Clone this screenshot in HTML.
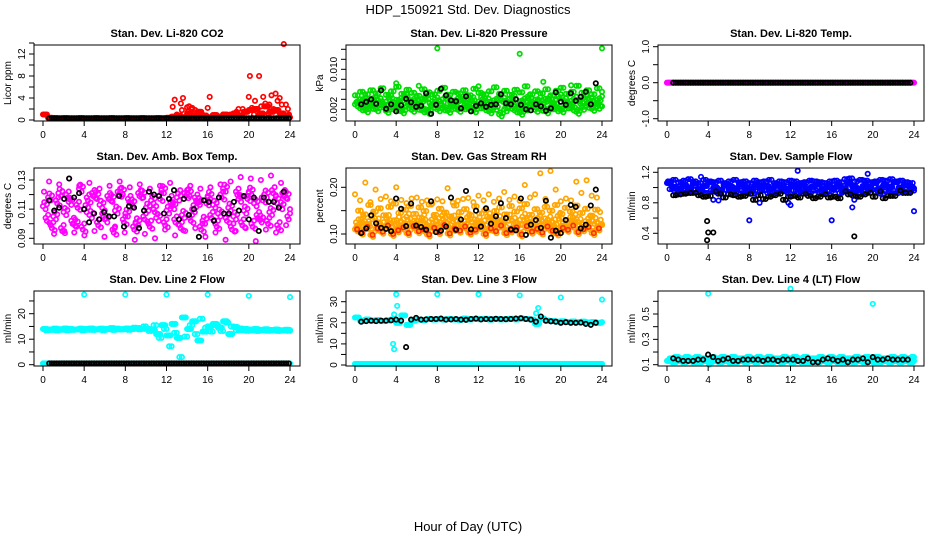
<!DOCTYPE html>
<html><head><meta charset="utf-8"><title>HDP_150921 Std. Dev. Diagnostics</title>
<style>
html,body{margin:0;padding:0;background:#fff;}
svg{display:block;font-family:"Liberation Sans",sans-serif;}
</style></head>
<body>
<svg id="chart" width="936" height="540" viewBox="0 0 936 540" xmlns="http://www.w3.org/2000/svg">
<text x="468" y="14" font-size="13" text-anchor="middle">HDP_150921  Std. Dev. Diagnostics</text>
<text x="468" y="531" font-size="13" text-anchor="middle">Hour of Day (UTC)</text>
</svg>
<script>
// ---------- data ----------
const xTickLabels = ["0","4","8","12","16","20","24"];
const xTickHours = [0,4,8,12,16,20,24];

// CO2
const co2Red = [1.0,0.4,0.35,0.3,0.35,0.3,0.3,0.35,0.3,0.3,0.35,0.3,0.3,0.35,0.3,0.3,0.35,0.3,0.3,0.35,0.3,0.3,0.35,0.3,0.4,0.6,0.8,0.5,1.2,0.6,1.5,0.8,0.5,0.9,0.6,1.0,0.9,1.2,0.8,1.5,1.8,2.0,1.2,2.5,1.5,1.8,1.2,0.8,0.5];
const co2Black = [0.3,0.3,0.3,0.3,0.3,0.3,0.3,0.3,0.3,0.3,0.3,0.3,0.3,0.3,0.3,0.3,0.3,0.3,0.3,0.3,0.3,0.3,0.3,0.3,0.3,0.3,0.3,0.3,0.3,0.3,0.3,0.3,0.3,0.3,0.3,0.3,0.3,0.3,0.3,0.3,0.3,0.3,0.3,0.3,0.3,0.3,0.3,0.3,0.3];
const co2BurstHours = [12.6,12.8,13.0,13.4,13.6,13.5,14.0,14.2,14.4,14.6,14.8,15.0,16.0,16.2,16.5,17.5,18.2,18.8,19.0,19.4,20.0,20.1,20.3,20.6,20.8,21.0,21.2,21.4,21.6,21.8,22.0,22.2,22.4,22.6,22.8,23.0,23.2,23.4,23.6,23.8,23.9,22.9,21.9,20.5,19.6,15.3,14.1,14.5,15.5];
const co2BurstVals = [2.4,3.7,1.0,3.0,4.0,1.8,2.3,2.5,2.0,1.5,1.8,1.2,2.2,4.2,0.8,1.0,1.0,1.5,2.0,2.0,4.2,8.0,2.2,3.5,2.0,8.0,2.5,4.2,3.0,2.5,2.8,4.5,2.0,4.8,3.5,4.0,2.8,13.8,2.8,2.0,1.0,1.5,1.2,1.0,1.5,0.8,1.6,2.2,1.0];

// Pressure (kPa)
const pLow = [0.0030,0.0022,0.0018,0.0025,0.0020,0.0028,0.0017,0.0024,0.0021,0.0016,0.0026,0.0019,0.0023,0.0018,0.0015,0.0027,0.0020,0.0022,0.0017,0.0025,0.0019,0.0024,0.0021,0.0018,0.0026,0.0022,0.0016,0.0023,0.0010,0.0020,0.0025,0.0018,0.0013,0.0022,0.0027,0.0019,0.0021,0.0016,0.0024,0.0020,0.0018,0.0026,0.0022,0.0015,0.0023,0.0027,0.0021,0.0025,0.0026];
const pMid = [0.0036,0.0040,0.0033,0.0042,0.0038,0.0031,0.0044,0.0035,0.0039,0.0046,0.0034,0.0041,0.0037,0.0043,0.0032,0.0040,0.0036,0.0045,0.0033,0.0038,0.0042,0.0035,0.0040,0.0031,0.0044,0.0037,0.0034,0.0041,0.0039,0.0036,0.0043,0.0032,0.0038,0.0045,0.0035,0.0040,0.0037,0.0042,0.0034,0.0046,0.0038,0.0033,0.0041,0.0036,0.0044,0.0039,0.0035,0.0042,0.0038];
const pHigh = [0.0048,0.0055,0.0050,0.0058,0.0052,0.0062,0.0049,0.0056,0.0065,0.0051,0.0059,0.0053,0.0047,0.0060,0.0054,0.0050,0.0057,0.0063,0.0049,0.0055,0.0052,0.0058,0.0048,0.0061,0.0053,0.0050,0.0056,0.0064,0.0051,0.0057,0.0049,0.0059,0.0054,0.0066,0.0050,0.0056,0.0052,0.0060,0.0048,0.0057,0.0063,0.0051,0.0055,0.0067,0.0053,0.0058,0.0050,0.0062,0.0055];
const pSpikeHours = [4.0,8.0,16.0,18.3,24.0,21.0,12.0,6.2];
const pSpikeVals = [0.0072,0.0142,0.0131,0.0075,0.0142,0.0068,0.0066,0.0067];
const pBlack = [0.0030,0.0035,0.0040,0.0031,0.0058,0.0021,0.0030,0.0016,0.0028,0.0041,0.0034,0.0025,0.0027,0.0052,0.0011,0.0029,0.0061,0.0048,0.0038,0.0036,0.0022,0.0046,0.0016,0.0027,0.0032,0.0025,0.0029,0.0030,0.0050,0.0032,0.0030,0.0040,0.0029,0.0020,0.0018,0.0030,0.0026,0.0017,0.0022,0.0054,0.0035,0.0029,0.0052,0.0037,0.0045,0.0055,0.0030,0.0072];

// Li-820 temp
const tMagenta = [0,0,0,0,0,0,0,0,0,0,0,0,0,0,0,0,0,0,0,0,0,0,0,0,0,0,0,0,0,0,0,0,0,0,0,0,0,0,0,0,0,0,0,0,0,0,0,0,0];
const tBlack = [0,0,0,0,0,0,0,0,0,0,0,0,0,0,0,0,0,0,0,0,0,0,0,0,0,0,0,0,0,0,0,0,0,0,0,0,0,0,0,0,0,0,0,0,0,0,0,0];

// Amb box temp
const ambA = [0.112,0.118,0.105,0.121,0.108,0.115,0.100,0.124,0.110,0.106,0.119,0.113,0.103,0.117,0.109,0.122,0.107,0.114,0.101,0.120,0.111,0.116,0.104,0.123,0.109,0.112,0.118,0.106,0.121,0.110,0.115,0.102,0.119,0.113,0.107,0.124,0.111,0.105,0.117,0.109,0.122,0.114,0.103,0.120,0.108,0.116,0.112,0.119,0.110];
const ambB = [0.104,0.099,0.116,0.097,0.120,0.102,0.113,0.098,0.118,0.121,0.101,0.107,0.119,0.096,0.122,0.103,0.117,0.098,0.121,0.105,0.100,0.110,0.119,0.101,0.117,0.103,0.099,0.121,0.104,0.118,0.098,0.116,0.106,0.100,0.120,0.104,0.098,0.122,0.101,0.119,0.100,0.106,0.118,0.102,0.123,0.099,0.121,0.105,0.113];
const ambC = [0.122,0.129,0.093,0.127,0.095,0.131,0.094,0.126,0.092,0.128,0.095,0.124,0.091,0.126,0.097,0.129,0.094,0.125,0.089,0.127,0.093,0.124,0.090,0.126,0.096,0.128,0.092,0.123,0.095,0.126,0.097,0.124,0.091,0.125,0.094,0.127,0.089,0.129,0.095,0.132,0.097,0.131,0.088,0.130,0.096,0.133,0.094,0.128,0.099];
const ambBlack = [0.116,0.109,0.111,0.117,0.131,0.118,0.121,0.110,0.101,0.107,0.103,0.108,0.105,0.105,0.119,0.098,0.112,0.111,0.097,0.109,0.122,0.120,0.119,0.107,0.117,0.123,0.103,0.117,0.106,0.110,0.091,0.116,0.115,0.102,0.118,0.107,0.107,0.115,0.109,0.119,0.103,0.118,0.095,0.118,0.115,0.115,0.111,0.122];

// Gas stream RH
const rhA = [0.110,0.103,0.115,0.098,0.112,0.105,0.118,0.100,0.108,0.114,0.102,0.117,0.106,0.110,0.099,0.113,0.104,0.119,0.101,0.111,0.107,0.116,0.103,0.109,0.115,0.100,0.112,0.106,0.118,0.102,0.108,0.114,0.099,0.117,0.105,0.111,0.103,0.116,0.107,0.101,0.113,0.109,0.118,0.104,0.110,0.115,0.102,0.112,0.119];
const rhB = [0.125,0.132,0.121,0.138,0.127,0.119,0.134,0.123,0.130,0.126,0.137,0.122,0.129,0.135,0.120,0.131,0.128,0.139,0.124,0.133,0.127,0.121,0.136,0.125,0.130,0.123,0.138,0.126,0.132,0.120,0.135,0.128,0.124,0.137,0.129,0.122,0.134,0.127,0.131,0.125,0.139,0.123,0.130,0.136,0.126,0.121,0.133,0.128,0.124];
const rhC = [0.150,0.142,0.162,0.148,0.155,0.140,0.158,0.165,0.145,0.152,0.160,0.143,0.157,0.149,0.163,0.141,0.154,0.146,0.138,0.161,0.147,0.153,0.140,0.159,0.144,0.151,0.136,0.149,0.157,0.142,0.160,0.148,0.155,0.164,0.141,0.153,0.146,0.158,0.150,0.162,0.143,0.156,0.148,0.161,0.145,0.154,0.139,0.152,0.147];
const rhD = [0.185,0.172,0.210,0.168,0.195,0.175,0.180,0.170,0.200,0.173,0.166,0.176,0.178,0.169,0.172,0.165,0.174,0.170,0.198,0.167,0.171,0.175,0.177,0.168,0.182,0.172,0.185,0.169,0.176,0.190,0.173,0.180,0.171,0.205,0.178,0.185,0.230,0.175,0.235,0.195,0.170,0.176,0.172,0.212,0.188,0.215,0.182,0.178,0.121];
const rhBlack = [0.102,0.112,0.140,0.123,0.113,0.111,0.106,0.176,0.154,0.117,0.165,0.118,0.115,0.109,0.170,0.104,0.107,0.116,0.178,0.109,0.131,0.192,0.110,0.150,0.116,0.155,0.122,0.138,0.166,0.134,0.110,0.108,0.176,0.098,0.120,0.130,0.113,0.171,0.092,0.107,0.102,0.130,0.162,0.158,0.112,0.120,0.161,0.195];

// Sample flow
const sA = [1.06,1.01,0.99,1.03,1.00,1.05,0.98,1.02,1.07,1.00,0.97,1.03,1.01,0.99,1.04,1.00,0.98,1.03,1.00,1.02,0.99,1.04,1.01,0.98,1.02,1.00,1.03,0.99,1.01,1.04,0.98,1.02,1.00,1.03,0.99,1.05,1.01,0.98,1.02,1.00,1.06,0.99,1.03,1.01,1.07,1.00,1.03,1.01,0.99];
const sB = [0.98,0.95,0.94,0.96,0.93,0.97,0.95,0.93,0.96,0.94,0.92,0.97,0.95,0.93,0.96,0.94,0.92,0.95,0.96,0.93,0.94,0.97,0.95,0.92,0.96,0.94,0.95,0.93,0.96,0.94,0.92,0.95,0.97,0.93,0.95,0.94,0.96,0.93,0.95,0.97,0.94,0.92,0.95,0.96,0.93,0.95,0.94,0.96,0.95];
const sC = [1.08,1.10,1.07,1.09,1.11,1.08,1.06,1.10,1.08,1.07,1.09,1.06,1.08,1.10,1.07,1.08,1.06,1.09,1.07,1.08,1.10,1.06,1.08,1.07,1.09,1.08,1.06,1.07,1.09,1.08,1.07,1.06,1.08,1.09,1.07,1.11,1.12,1.08,1.10,1.09,1.07,1.08,1.10,1.09,1.11,1.08,1.09,1.07,1.06];
const sBlueOutHours = [8.0,16.0,18.0,12.7,19.5,24.0,3.3,4.5,5.0,11.8,12.0,9.0,18.2];
const sBlueOutVals = [0.57,0.57,0.74,1.22,1.18,0.69,1.14,0.84,0.83,0.80,0.77,0.80,0.84];
const sBlack = [0.90,0.91,0.92,0.93,0.93,0.90,0.88,0.89,0.95,0.92,0.87,0.91,0.90,0.88,0.89,0.92,0.84,0.90,0.85,0.88,0.90,0.92,0.84,0.88,0.89,0.87,0.92,0.89,0.86,0.88,0.91,0.87,0.88,0.86,0.95,0.91,0.89,0.88,0.91,0.93,0.88,0.95,0.86,0.89,0.89,0.96,0.93,0.93];
const sBlackOutHours = [3.9,4.0,4.5,3.9,18.2];
const sBlackOutVals = [0.56,0.41,0.41,0.31,0.36];

// Line 2 flow
const l2A = [14.0,13.8,14.1,13.9,14.2,14.0,13.8,14.1,14.0,14.2,13.9,14.1,14.0,14.3,14.1,13.9,14.2,14.0,14.4,14.1,14.0,13.5,12.0,15.5,11.5,16.0,10.5,18.5,14.0,17.0,9.5,13.0,15.0,16.0,14.5,17.0,12.0,14.8,14.2,14.0,13.8,14.0,13.7,13.9,13.6,13.8,13.5,13.7,13.6];
const l2B = [13.5,13.6,13.4,13.7,13.5,13.6,13.8,13.5,13.7,13.6,13.8,13.5,13.9,13.6,13.8,14.0,13.7,14.5,13.9,15.0,13.2,15.5,10.5,14.0,7.2,12.5,3.0,11.0,15.5,12.0,18.0,14.5,13.0,15.5,13.2,16.5,15.0,13.4,13.5,13.3,13.4,13.2,13.5,13.3,13.4,13.2,13.4,13.3,13.5];
const l2Bottom = [0.5,0.5,0.5,0.5,0.5,0.5,0.5,0.5,0.5,0.5,0.5,0.5,0.5,0.5,0.5,0.5,0.5,0.5,0.5,0.5,0.5,0.5,0.5,0.5,0.5,0.5,0.5,0.5,0.5,0.5,0.5,0.5,0.5,0.5,0.5,0.5,0.5,0.5,0.5,0.5,0.5,0.5,0.5,0.5,0.5,0.5,0.5,0.5,0.5];
const l2SpikeHours = [4,8,12,16,20,24];
const l2SpikeVals = [27.5,27.5,27.5,27.5,27.0,26.5];

// Line 3 flow
const l3Cyan = [22.5,21.0,21.5,21.0,21.3,20.8,21.2,21.5,20.0,23.5,19.0,21.0,21.5,21.3,21.8,21.5,21.7,21.5,21.8,21.6,21.4,22.0,21.6,21.8,21.7,21.9,21.5,21.8,21.6,21.7,21.9,21.6,22.0,21.8,21.5,19.5,22.0,21.0,20.8,20.5,20.7,20.4,20.6,20.3,20.5,20.2,20.4,20.0,20.3];
const l3Black = [20.5,20.8,21.0,20.8,21.0,21.0,21.2,21.5,21.0,8.5,21.5,22.3,21.5,21.6,21.8,21.8,22.0,21.5,21.6,21.8,21.5,21.4,21.8,22.0,21.6,21.8,21.7,21.9,21.8,21.7,21.8,22.0,22.2,21.8,21.5,20.5,23.0,21.0,20.7,20.5,20.0,20.3,20.0,20.0,20.1,19.5,19.0,20.0];
const l3Bottom = [0.5,0.5,0.5,0.5,0.5,0.5,0.5,0.5,0.5,0.5,0.5,0.5,0.5,0.5,0.5,0.5,0.5,0.5,0.5,0.5,0.5,0.5,0.5,0.5,0.5,0.5,0.5,0.5,0.5,0.5,0.5,0.5,0.5,0.5,0.5,0.5,0.5,0.5,0.5,0.5,0.5,0.5,0.5,0.5,0.5,0.5,0.5,0.5,0.5];
const l3SpikeHours = [3.8,4.0,3.7,3.8,4.1,8,12,16,17.8,17.6,20,24];
const l3SpikeVals = [24.0,33.5,10.0,7.5,28.0,33.5,33.5,33.0,27.0,24.5,32.0,31.0];

// Line 4 flow
const l4A = [0.13,0.12,0.13,0.12,0.13,0.12,0.12,0.13,0.12,0.13,0.12,0.13,0.12,0.12,0.13,0.12,0.13,0.12,0.13,0.12,0.12,0.13,0.12,0.13,0.12,0.13,0.12,0.12,0.13,0.12,0.13,0.12,0.13,0.12,0.12,0.13,0.12,0.13,0.12,0.13,0.12,0.12,0.13,0.12,0.13,0.12,0.13,0.12,0.13];
const l4B = [0.15,0.16,0.15,0.16,0.15,0.16,0.15,0.15,0.16,0.15,0.16,0.15,0.16,0.15,0.15,0.16,0.15,0.16,0.15,0.16,0.15,0.15,0.16,0.15,0.16,0.15,0.16,0.15,0.15,0.16,0.15,0.16,0.15,0.16,0.15,0.15,0.16,0.15,0.16,0.15,0.16,0.15,0.15,0.16,0.15,0.16,0.15,0.16,0.15];
const l4Black = [0.15,0.14,0.13,0.13,0.13,0.14,0.14,0.18,0.16,0.13,0.14,0.15,0.13,0.13,0.14,0.14,0.14,0.14,0.13,0.14,0.14,0.13,0.14,0.14,0.14,0.13,0.13,0.15,0.12,0.12,0.14,0.15,0.14,0.13,0.14,0.12,0.14,0.14,0.15,0.12,0.16,0.14,0.14,0.15,0.14,0.14,0.14,0.14];
const l4SpikeHours = [4,12,20,4.1];
const l4SpikeVals = [0.66,0.70,0.58,0.10];

// ---------- drawing ----------
const svg = document.getElementById('chart');
const NS = 'http://www.w3.org/2000/svg';
function mk(tag, attrs, parent){
  const e = document.createElementNS(NS, tag);
  for (const k in attrs) e.setAttribute(k, attrs[k]);
  (parent||svg).appendChild(e);
  return e;
}
const COLS = [0,312,624];
const ROWS = [{y0:45,y1:121},{y0:168,y1:244},{y0:291,y1:366}];

function panel(p){
  const ox = COLS[p.col], r = ROWS[p.row];
  const g = mk('g', {});
  
  
  const xL = 34+ox, xR = 300+ox;
  const xs = h => 43+ox + h*(247/24);
  const ys = v => p.ya[1] + (v - p.ya[0])*(p.yb[1]-p.ya[1])/(p.yb[0]-p.ya[0]);
  p.series.forEach(s=>{
    const sg = mk('g', {fill:'none', stroke:s.color, 'stroke-width':1.7}, g);
    
    
    const shifts = s.copies || [0];
    shifts.forEach((sh,k)=>{
      s.vals.forEach((v,i)=>{
        const h = s.hours ? s.hours[i] : s.start + sh + i*s.step;
        if (h > 24.05) return;
        const dy = s.jit ? s.jit[k] : 0;
        const c = mk('circle', {cx:xs(h).toFixed(1), cy:(ys(v)+dy).toFixed(1), r:2.2}, sg);
        
        
      });
    });
  });
  const box = mk('rect', {x:xL, y:r.y0, width:xR-xL, height:r.y1-r.y0, fill:'none', stroke:'#000', 'stroke-width':1}, g);
  
  
  const t = mk('text', {x:(xL+xR)/2, y:r.y0-8, 'font-size':11, 'font-weight':'bold', 'text-anchor':'middle'}, g);
  t.textContent = p.title;
  
  
  const xa = mk('g', {stroke:'#000','stroke-width':1}, g);
  
  
  xTickHours.forEach((h,i)=>{
    mk('line', {x1:xs(h), x2:xs(h), y1:r.y1, y2:r.y1+5}, xa);
    const lt = mk('text', {x:xs(h), y:r.y1+17, 'font-size':10, 'text-anchor':'middle', stroke:'none'}, xa);
    lt.textContent = xTickLabels[i];
    
    
  });
  mk('line', {x1:xs(0), x2:xs(24), y1:r.y1, y2:r.y1}, xa);
  const ya = mk('g', {stroke:'#000','stroke-width':1}, g);
  
  
  p.yTicks.forEach(v=>{ mk('line', {x1:xL, x2:xL-5, y1:ys(v), y2:ys(v)}, ya); });
  mk('line', {x1:xL, x2:xL, y1:ys(p.yTicks[0]), y2:ys(p.yTicks[p.yTicks.length-1])}, ya);
  p.yLabels.forEach(v=>{
    const y = ys(v), x = xL-9;
    const lt = mk('text', {x:x, y:y, 'font-size':10, 'text-anchor':'middle', stroke:'none', transform:`rotate(-90 ${x} ${y})`}, ya);
    lt.textContent = p.fmt(v);
    
    
  });
  const ym = (r.y0+r.y1)/2, yx = 11+ox;
  const yt = mk('text', {x:yx, y:ym, 'font-size':10, 'text-anchor':'middle', transform:`rotate(-90 ${yx} ${ym})`}, g);
  yt.textContent = p.yTitle;
  
  
}
const f = d => v => v.toFixed(d);
const range = (a,b,s) => { const o=[]; for(let v=a; v<=b+1e-9; v+=s) o.push(+v.toFixed(6)); return o; };
const B = '#000';
const C4 = [0,0.125,0.25,0.375];
const C2 = [0,0.25];

panel({name:'co2-panel', col:0,row:0,title:'Stan. Dev. Li-820 CO2', yTitle:'Licor ppm', ya:[0,120], yb:[12,54],
  yTicks:range(0,14,2), yLabels:[0,4,8,12], fmt:f(0),
  series:[{name:'co2-red-series',color:'#ff0000',vals:co2Red,start:0,step:0.5,copies:C4},
          {name:'co2-red-bursts',color:'#ff0000',vals:co2BurstVals,hours:co2BurstHours},
          {name:'co2-black-series',color:B,vals:co2Black,start:0.6,step:0.485,copies:C2}]});
panel({name:'pressure-panel', col:1,row:0,title:'Stan. Dev. Li-820 Pressure', yTitle:'kPa', ya:[0,119.3], yb:[0.010,69.3],
  yTicks:range(0.002,0.014,0.002), yLabels:[0.002,0.010], fmt:f(3),
  series:[{name:'pressure-green-low',color:'#00dd00',vals:pLow,start:0,step:0.5,copies:C4,jit:[0,-2,2,-1]},
          {name:'pressure-green-mid',color:'#00dd00',vals:pMid,start:0.25,step:0.5,copies:C4,jit:[0,2,-2,1]},
          {name:'pressure-green-high',color:'#00dd00',vals:pHigh,start:0,step:0.5,copies:C2},
          {name:'pressure-green-spikes',color:'#00dd00',vals:pSpikeVals,hours:pSpikeHours},
          {name:'pressure-black-series',color:B,vals:pBlack,start:0.6,step:0.485}]});
panel({name:'li820-temp-panel', col:2,row:0,title:'Stan. Dev. Li-820 Temp.', yTitle:'degrees C', ya:[0,82.7], yb:[1,46.7],
  yTicks:[-1,-0.5,0,0.5,1], yLabels:[-1,0,1], fmt:f(1),
  series:[{name:'temp-magenta-series',color:'#ff00ff',vals:tMagenta,start:0,step:0.5,copies:C4},
          {name:'temp-black-series',color:B,vals:tBlack,start:0.6,step:0.485,copies:C2}]});
panel({name:'amb-box-temp-panel', col:0,row:1,title:'Stan. Dev. Amb. Box Temp.', yTitle:'degrees C', ya:[0.13,180], yb:[0.09,238.3],
  yTicks:range(0.09,0.13,0.01), yLabels:[0.09,0.11,0.13], fmt:f(2),
  series:[{name:'amb-magenta-a',color:'#ff00ff',vals:ambA,start:0,step:0.5,copies:C4,jit:[0,-4,3,-2]},
          {name:'amb-magenta-b',color:'#ff00ff',vals:ambB,start:0.25,step:0.5,copies:C4,jit:[0,3,-3,5]},
          {name:'amb-magenta-c',color:'#ff00ff',vals:ambC,start:0.1,step:0.49},
          {name:'amb-black-series',color:B,vals:ambBlack,start:0.6,step:0.485}]});
panel({name:'gas-rh-panel', col:1,row:1,title:'Stan. Dev. Gas Stream RH', yTitle:'percent', ya:[0.20,187.3], yb:[0.10,234],
  yTicks:[0.10,0.15,0.20], yLabels:[0.10,0.20], fmt:f(2),
  series:[{name:'rh-orange-a',color:'#ffa500',vals:rhA,start:0,step:0.5,copies:C4,jit:[0,-2,2,-3]},
          {name:'rh-orange-b',color:'#ffa500',vals:rhB,start:0.1,step:0.49,copies:C4,jit:[0,3,-3,2]},
          {name:'rh-orange-c',color:'#ffa500',vals:rhC,start:0.3,step:0.49,copies:C2},
          {name:'rh-orange-d',color:'#ffa500',vals:rhD,start:0,step:0.5},
          {name:'rh-red-core',color:'#ff3000',vals:rhA,start:0.2,step:0.5},
          {name:'rh-black-series',color:B,vals:rhBlack,start:0.6,step:0.485}]});
panel({name:'sample-flow-panel', col:2,row:1,title:'Stan. Dev. Sample Flow', yTitle:'ml/min', ya:[1.2,172.3], yb:[0.4,233.3],
  yTicks:range(0.4,1.2,0.2), yLabels:[0.4,0.8,1.2], fmt:f(1),
  series:[{name:'sample-black-series',color:B,vals:sBlack,start:0.6,step:0.485},
          {name:'sample-blue-a',color:'#0000ff',vals:sA,start:0,step:0.5,copies:C4},
          {name:'sample-blue-b',color:'#0000ff',vals:sB,start:0.25,step:0.5,copies:C2},
          {name:'sample-blue-c',color:'#0000ff',vals:sC,start:0.1,step:0.49,copies:C2},
          {name:'sample-blue-outliers',color:'#0000ff',vals:sBlueOutVals,hours:sBlueOutHours},
          {name:'sample-black-top',color:B,vals:sBlack,start:0.85,step:0.485},
          {name:'sample-black-outliers',color:B,vals:sBlackOutVals,hours:sBlackOutHours}]});
panel({name:'line2-flow-panel', col:0,row:2,title:'Stan. Dev. Line 2 Flow', yTitle:'ml/min', ya:[0,364.7], yb:[20,313.7],
  yTicks:range(0,25,5), yLabels:[0,10,20], fmt:f(0),
  series:[{name:'line2-cyan-a',color:'#00ffff',vals:l2A,start:0,step:0.5,copies:C4},
          {name:'line2-cyan-b',color:'#00ffff',vals:l2B,start:0.25,step:0.5,copies:C2},
          {name:'line2-cyan-bottom',color:'#00ffff',vals:l2Bottom,start:0,step:0.5,copies:C4},
          {name:'line2-cyan-spikes',color:'#00ffff',vals:l2SpikeVals,hours:l2SpikeHours},
          {name:'line2-black-series',color:B,vals:l2Bottom,start:0.6,step:0.485,copies:C2}]});
panel({name:'line3-flow-panel', col:1,row:2,title:'Stan. Dev. Line 3 Flow', yTitle:'ml/min', ya:[0,365], yb:[30,301.7],
  yTicks:range(0,30,5), yLabels:[0,10,20,30], fmt:f(0),
  series:[{name:'line3-cyan-series',color:'#00ffff',vals:l3Cyan,start:0,step:0.5,copies:C4},
          {name:'line3-cyan-bottom',color:'#00ffff',vals:l3Bottom,start:0,step:0.5,copies:C4},
          {name:'line3-cyan-spikes',color:'#00ffff',vals:l3SpikeVals,hours:l3SpikeHours},
          {name:'line3-black-series',color:B,vals:l3Black,start:0.6,step:0.485}]});
panel({name:'line4-flow-panel', col:2,row:2,title:'Stan. Dev. Line 4 (LT) Flow', yTitle:'ml/min', ya:[0.1,364.7], yb:[0.5,314],
  yTicks:range(0.1,0.6,0.1), yLabels:[0.1,0.3,0.5], fmt:f(1),
  series:[{name:'line4-cyan-a',color:'#00ffff',vals:l4A,start:0,step:0.5,copies:C4},
          {name:'line4-cyan-b',color:'#00ffff',vals:l4B,start:0.25,step:0.5,copies:C4},
          {name:'line4-cyan-spikes',color:'#00ffff',vals:l4SpikeVals,hours:l4SpikeHours},
          {name:'line4-black-series',color:B,vals:l4Black,start:0.6,step:0.485}]});
</script>
</body></html>
